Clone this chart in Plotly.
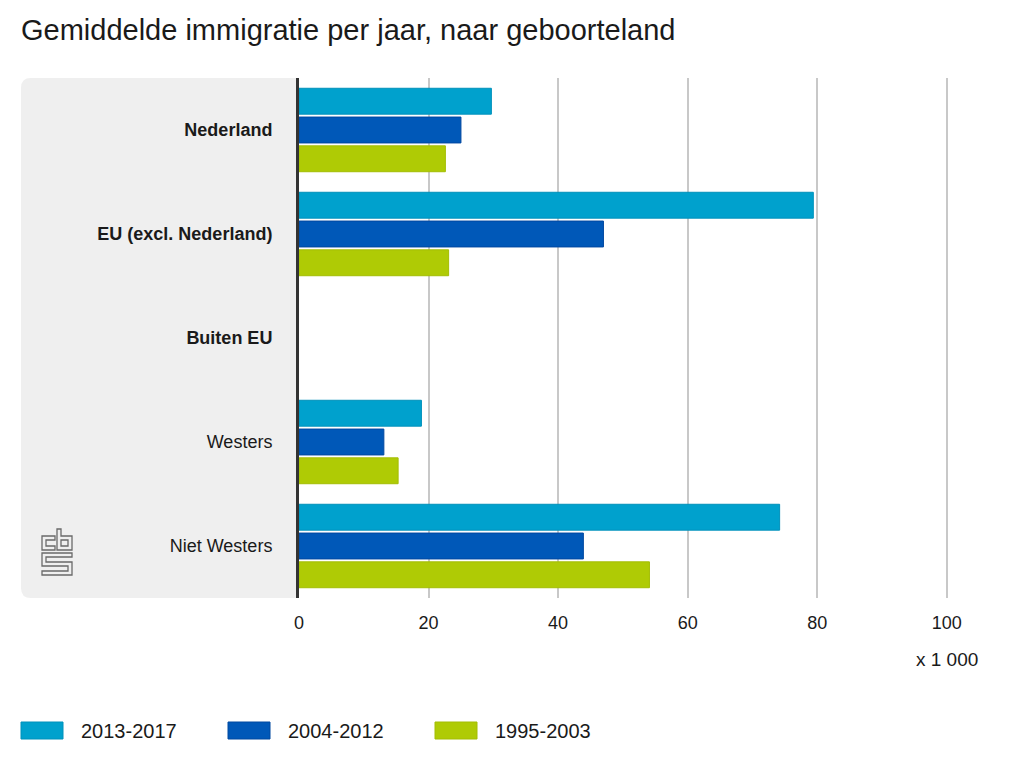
import plotly.graph_objects as go

# ---- data ----
categories = ["Nederland", "EU (excl. Nederland)", "Buiten EU", "Westers", "Niet Westers"]
category_labels = ["<b>Nederland</b>", "<b>EU (excl. Nederland)</b>", "<b>Buiten EU</b>", "Westers", "Niet Westers"]
series_names = ["2013-2017", "2004-2012", "1995-2003"]
values_2013_2017 = [29.7, 79.4, None, 18.9, 74.2]
values_2004_2012 = [25.0, 47.0, None, 13.1, 43.9]
values_1995_2003 = [22.6, 23.1, None, 15.3, 54.1]
x_ticks = [0, 20, 40, 60, 80, 100]

series_values = [values_2013_2017, values_2004_2012, values_1995_2003]
colors = ["#00a1cd", "#0058b8", "#afcb05"]
edge_colors = ["#0091bb", "#0048a0", "#a3bd04"]

FONT = "Liberation Sans, Arial, Helvetica, sans-serif"
W, H = 1024, 769
L, R, T, B = 299, 950, 78, 598


def px(x):
    return (x - L) / (R - L)


def py(y):
    return (B - y) / (B - T)


def path(points, close=True):
    s = "M " + " L ".join(f"{px(x):.5f},{py(y):.5f}" for x, y in points)
    return s + (" Z" if close else "")


fig = go.Figure()
for name, vals, c, ec in zip(series_names, series_values, colors, edge_colors):
    fig.add_trace(go.Bar(
        y=categories, x=vals, name=name, orientation="h",
        marker=dict(color=c, line=dict(color=ec, width=1)),
        showlegend=False,
    ))

shapes = []
# grey panel with rounded left corners
r = 10
x0, x1, y0, y1 = 21, 299, 78, 598
panel = (f"M {px(x1):.5f},{py(y0):.5f} L {px(x0 + r):.5f},{py(y0):.5f} "
         f"Q {px(x0):.5f},{py(y0):.5f} {px(x0):.5f},{py(y0 + r):.5f} "
         f"L {px(x0):.5f},{py(y1 - r):.5f} "
         f"Q {px(x0):.5f},{py(y1):.5f} {px(x0 + r):.5f},{py(y1):.5f} "
         f"L {px(x1):.5f},{py(y1):.5f} Z")
shapes.append(dict(type="path", xref="paper", yref="paper", path=panel,
                   fillcolor="#efefef", line=dict(width=0), layer="below"))

# CBS logo (outline)
logo_parts = [
    [(42, 536), (55, 536), (55, 540), (46, 540), (46, 546), (55, 546), (55, 550), (42, 550)],
    [(57, 529), (61, 529), (61, 536), (72, 536), (72, 550), (57, 550)],
    [(61, 540), (68, 540), (68, 546), (61, 546)],
    [(42, 553), (72, 553), (72, 557), (46, 557), (46, 562), (72, 562), (72, 575), (42, 575),
     (42, 571), (68, 571), (68, 566), (42, 566)],
]
for pts in logo_parts:
    shapes.append(dict(type="path", xref="paper", yref="paper", path=path(pts),
                       line=dict(color="#6a6a6a", width=1.3), fillcolor="rgba(0,0,0,0)"))

annotations = []
# custom legend
for i, (name, c) in enumerate(zip(series_names, colors)):
    sx = 21 + i * 207
    shapes.append(dict(type="rect", xref="paper", yref="paper",
                       x0=px(sx), x1=px(sx + 42), y0=py(739), y1=py(722),
                       fillcolor=c, line=dict(color=edge_colors[i], width=1)))
    annotations.append(dict(text=name, xref="paper", yref="paper", x=px(sx + 58), y=py(731),
                            xanchor="left", yanchor="middle", showarrow=False,
                            font=dict(family=FONT, size=20, color="#1a1a1a")))

annotations.append(dict(text="x 1 000", xref="paper", yref="paper", x=px(980), y=py(659),
                        xanchor="right", yanchor="middle", showarrow=False,
                        font=dict(family=FONT, size=19, color="#1a1a1a")))
annotations.append(dict(text="Gemiddelde immigratie per jaar, naar geboorteland",
                        xref="paper", yref="paper", x=px(19), y=py(30),
                        xanchor="left", yanchor="middle", showarrow=False,
                        font=dict(family=FONT, size=29, color="#1a1a1a")))

fig.update_layout(
    width=W, height=H,
    margin=dict(l=L, r=W - R, t=T, b=H - B, pad=0),
    paper_bgcolor="white", plot_bgcolor="white",
    barmode="group", bargap=0.17, bargroupgap=0.1,
    shapes=shapes, annotations=annotations,
    showlegend=False,
    xaxis=dict(range=[0, 100.5], tickvals=x_ticks, ticktext=[str(v) for v in x_ticks],
               showgrid=True, gridcolor="#c8c8c8", gridwidth=1.5, zeroline=False,
               showline=False, ticks="", ticklabelstandoff=12,
               tickfont=dict(family=FONT, size=18, color="#1a1a1a"), fixedrange=True),
    yaxis=dict(categoryorder="array", categoryarray=categories, autorange="reversed",
               tickvals=categories, ticktext=category_labels,
               showgrid=False, zeroline=False, showline=True, linecolor="#333333", linewidth=3,
               ticks="", ticklabelstandoff=20,
               tickfont=dict(family=FONT, size=18, color="#1a1a1a"), fixedrange=True),
)

fig.write_html("out.html")
